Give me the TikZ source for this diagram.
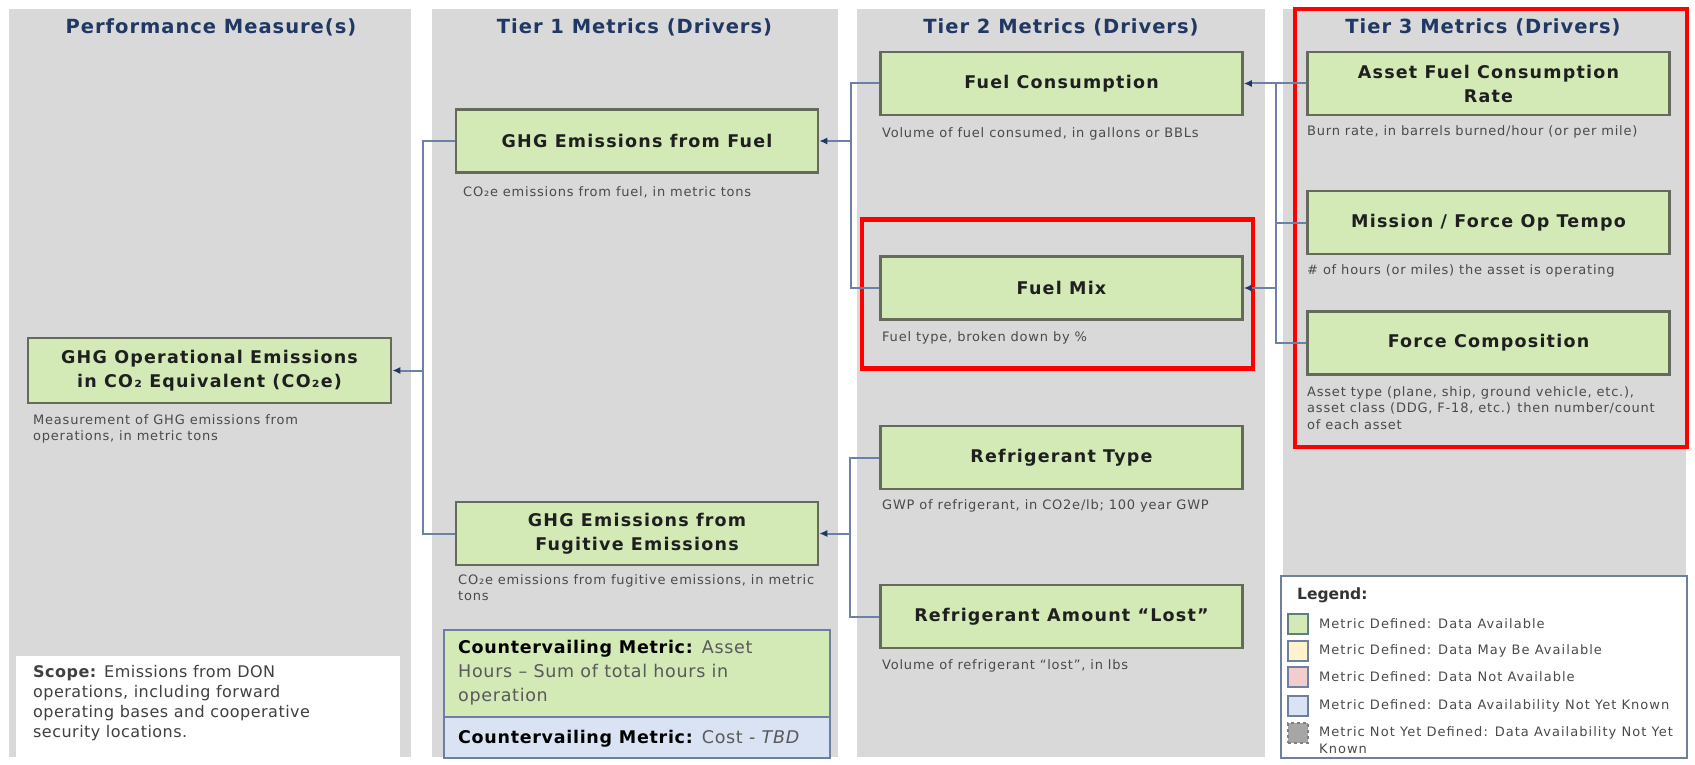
\documentclass[tikz,border=0pt]{standalone}
\usepackage{fontspec}
\setmainfont{DejaVu Sans}
\usetikzlibrary{arrows.meta}
\definecolor{colbg}{HTML}{D9D9D9}
\definecolor{mgreen}{HTML}{D3E9B6}
\definecolor{mborder}{HTML}{646B5C}
\definecolor{navy}{HTML}{1F3864}
\definecolor{conn}{HTML}{6C80A8}
\definecolor{desctext}{HTML}{4A4A4A}
\definecolor{lblue}{HTML}{DAE3F3}
\definecolor{lyellow}{HTML}{FFF2CC}
\definecolor{lpink}{HTML}{F2CDCD}
\definecolor{lgray}{HTML}{A6A6A6}
\definecolor{cvborder}{HTML}{6F7F9F}
\definecolor{swborder}{HTML}{5F7F7F}
\tikzset{
  colnode/.style={fill=colbg, draw=none, minimum width=402pt, minimum height=748pt, inner sep=0pt},
  hdr/.style={text=navy, font=\fontsize{19.5}{22}\selectfont\bfseries\addfontfeatures{LetterSpace=5}, inner sep=0pt},
  metric/.style={draw=mborder, fill=mgreen, line width=2.5pt, minimum width=362pt, minimum height=63pt, inner sep=0pt, align=center, text=black!88, font=\fontsize{17.5}{24}\selectfont\bfseries\addfontfeatures{LetterSpace=7}},
  desc/.style={anchor=north west, inner sep=0pt, align=left, text=desctext, font=\fontsize{13}{16.5}\selectfont\addfontfeatures{LetterSpace=6}},
  redframe/.style={draw=red, line width=4.5pt, inner sep=0pt},
  connline/.style={draw=conn, line width=2pt},
  arr/.style={draw=conn, line width=2pt, -{Latex[length=8pt,width=7pt,color=navy]}},
  swatch/.style={minimum width=20pt, minimum height=20pt, line width=2.5pt, inner sep=0pt},
  legtext/.style={anchor=west, inner sep=0pt, align=left, text=desctext, font=\fontsize{13}{17}\selectfont\addfontfeatures{LetterSpace=8}},
}
\begin{document}
\begin{tikzpicture}[x=1pt,y=-1pt]
\useasboundingbox (0,0) rectangle (1695,765);
% columns
\node[colnode] (c1) at (210,383) {};
\node[colnode, minimum width=406pt] (c2) at (635,383) {};
\node[colnode, minimum width=408pt] (c3) at (1061,383) {};
\node[colnode, minimum width=403pt] (c4) at (1484.5,383) {};
% headers
\node[hdr] (h1) at (211,27) {Performance Measure(s)};
\node[hdr] (h2) at (634.5,27) {Tier 1 Metrics (Drivers)};
\node[hdr] (h3) at (1061,27) {Tier 2 Metrics (Drivers)};
\node[hdr] (h4) at (1483,27) {Tier 3 Metrics (Drivers)};
% red frames
\node[redframe, minimum width=391pt, minimum height=149pt] (r1) at (1057.5,293.75) {};
\node[redframe, minimum width=392pt, minimum height=438pt] (r2) at (1491,228) {};
% metric boxes
\node[metric, minimum width=363pt, minimum height=65pt] (pm) at (209.5,370.5) {GHG Operational Emissions\\in CO₂ Equivalent (CO₂e)};
\node[metric] (ghgfuel) at (637,141) {GHG Emissions from Fuel};
\node[metric] (fug) at (637,533.5) {GHG Emissions from\\Fugitive Emissions};
\node[metric] (fcons) at (1061.5,83.5) {Fuel Consumption};
\node[metric] (fmix) at (1061.5,288) {Fuel Mix};
\node[metric] (rtype) at (1061.5,457.5) {Refrigerant Type};
\node[metric] (rlost) at (1061.5,616.5) {Refrigerant Amount “Lost”};
\node[metric] (asset) at (1488.5,83.5) {Asset Fuel Consumption\\Rate};
\node[metric] (mission) at (1488.5,222.5) {Mission / Force Op Tempo};
\node[metric] (force) at (1488.5,343) {Force Composition};
% descriptions
\node[desc] (dpm) at (33,414) {Measurement of GHG emissions from\\operations, in metric tons};
\node[desc] (dghg) at (463,186) {CO₂e emissions from fuel, in metric tons};
\node[desc] (dfug) at (458,574) {CO₂e emissions from fugitive emissions, in metric\\tons};
\node[desc] (dfcons) at (882,127) {Volume of fuel consumed, in gallons or BBLs};
\node[desc] (dfmix) at (882,331) {Fuel type, broken down by \%};
\node[desc] (drtype) at (882,499) {GWP of refrigerant, in CO2e/lb; 100 year GWP};
\node[desc] (drlost) at (882,659) {Volume of refrigerant “lost”, in lbs};
\node[desc] (dasset) at (1307,125) {Burn rate, in barrels burned/hour (or per mile)};
\node[desc] (dmission) at (1307,264) {\# of hours (or miles) the asset is operating};
\node[desc] (dforce) at (1307,386) {Asset type (plane, ship, ground vehicle, etc.),\\asset class (DDG, F-18, etc.) then number/count\\of each asset};
% scope
\node[fill=white, minimum width=384pt, minimum height=102pt, inner sep=0pt] (scopebox) at (208,707) {};
\node[anchor=north west, inner sep=0pt, align=left, text=black!75, font=\fontsize{16}{20}\selectfont\addfontfeatures{LetterSpace=3}] (scopetext) at (33,665) {\textbf{Scope:} Emissions from DON\\operations, including forward\\operating bases and cooperative\\security locations.};
% countervailing
\node[draw=cvborder, fill=mgreen, line width=2.5pt, minimum width=386pt, minimum height=87pt, inner sep=0pt] (cv1) at (637,673.5) {};
\node[draw=cvborder, fill=lblue, line width=2.5pt, minimum width=386pt, minimum height=41pt, inner sep=0pt] (cv2) at (637,737.5) {};
\node[anchor=north west, inner sep=0pt, align=left, text=black!65, font=\fontsize{17.5}{24}\selectfont\addfontfeatures{LetterSpace=4}] (cv1t) at (458,640) {\textcolor{black}{\textbf{Countervailing Metric:}} Asset\\Hours – Sum of total hours in\\operation};
\node[anchor=west, inner sep=0pt, text=black!65, font=\fontsize{17.5}{24}\selectfont\addfontfeatures{LetterSpace=4}] (cv2t) at (458,739) {\textcolor{black}{\textbf{Countervailing Metric:}} Cost - \textit{TBD}};
% legend
\node[draw=cvborder, fill=white, line width=2pt, minimum width=406pt, minimum height=182pt, inner sep=0pt] (leg) at (1484,667) {};
\node[anchor=west, inner sep=0pt, text=black!80, font=\fontsize{15.5}{18}\selectfont\bfseries] (legt) at (1297,595) {Legend:};
\node[swatch, draw=swborder, fill=mgreen] (s1) at (1298,624) {};
\node[swatch, draw=cvborder, fill=lyellow] (s2) at (1298,651) {};
\node[swatch, draw=cvborder, fill=lpink] (s3) at (1298,677) {};
\node[swatch, draw=cvborder, fill=lblue] (s4) at (1298,706) {};
\node[swatch, draw=gray, dashed, fill=lgray] (s5) at (1298,733) {};
\node[legtext] (l1) at (1319,624) {Metric Defined: Data Available};
\node[legtext] (l2) at (1319,651) {Metric Defined: Data May Be Available};
\node[legtext] (l3) at (1319,677) {Metric Defined: Data Not Available};
\node[legtext] (l4) at (1319,706) {Metric Defined: Data Availability Not Yet Known};
\node[legtext, anchor=north west] (l5) at (1319,726) {Metric Not Yet Defined: Data Availability Not Yet\\Known};
% connectors
\coordinate (t1) at (423,370.5);
\draw[connline] (ghgfuel.west) -| (t1);
\draw[connline] (fug.west) -| (t1);
\draw[arr] (t1) -- (pm.east);
\coordinate (t2) at (851,141);
\draw[connline] (fcons.west) -| (t2);
\draw[connline] (fmix.west) -| (t2);
\draw[arr] (t2) -- (ghgfuel.east);
\coordinate (t3) at (850,533.5);
\draw[connline] (rtype.west) -| (t3);
\draw[connline] (rlost.west) -| (t3);
\draw[arr] (t3) -- (fug.east);
\coordinate (t4) at (1276,83.5);
\coordinate (t5) at (1276,288);
\coordinate (t6) at (1276,343);
\draw[connline] (asset.west) -- (t4) -- (t6) -- (force.west);
\draw[connline] (mission.west) -- (mission.west -| t4);
\draw[arr] (t4) -- (fcons.east);
\draw[arr] (t5) -- (fmix.east);
\end{tikzpicture}
\end{document}
